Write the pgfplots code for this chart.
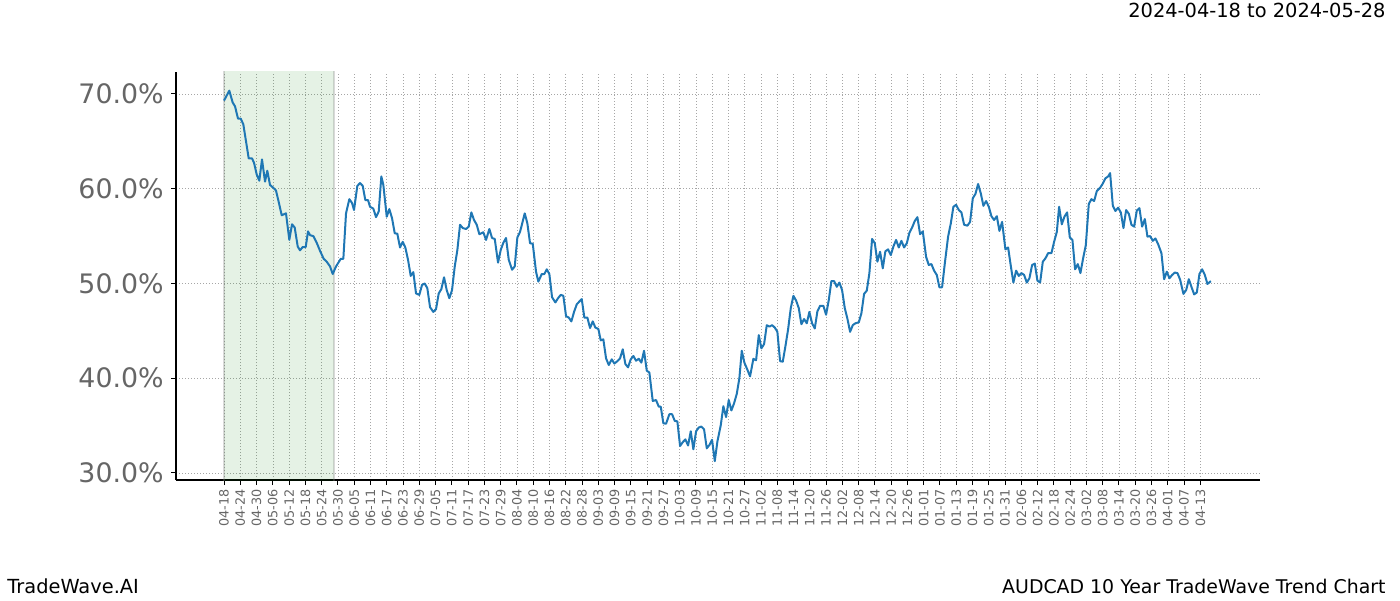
\documentclass[border=0pt]{standalone}
\usepackage{fontspec}
\setmainfont{DejaVu Sans}
\usepackage{pgfplots}
\usepackage{pgfplotstable}
\pgfplotsset{compat=1.18}
\definecolor{mplblue}{HTML}{1F77B4}
\definecolor{tickgray}{HTML}{666666}
\definecolor{bandgreen}{HTML}{008000}

\pgfplotstableread{
x y
0 69.3
1.95 70.35
3.2 69.1
4.06 68.7
5.16 67.4
6.16 67.4
7.12 66.8
9.11 63.2
10.33 63.2
11.06 62.75
12.06 61.5
13.02 60.85
14.01 63.1
15.12 60.75
15.97 61.9
16.96 60.4
18.18 60.1
19.18 59.8
20.17 58.6
21.28 57.2
22.86 57.4
24.08 54.6
25.08 56.25
26.07 55.9
27.18 53.9
28.03 53.5
29.02 53.85
30.13 53.85
30.98 55.5
31.71 55.1
32.93 55.0
34.18 54.3
35.40 53.45
36.77 52.6
37.87 52.3
39.09 51.8
40.09 51.0
41.30 51.8
43.04 52.6
44.0 52.6
44.99 57.4
46.21 58.9
47.20 58.5
47.94 57.75
49.16 60.3
50.15 60.6
51.15 60.3
52.11 58.8
53.10 58.8
53.84 58.1
55.06 57.9
56.05 57.0
57.05 57.6
58.01 61.3
58.75 60.4
60.0 57.05
60.96 57.85
61.95 56.9
62.95 55.3
63.91 55.25
64.90 53.8
65.90 54.4
66.86 53.8
67.85 52.5
68.85 50.8
69.81 51.2
70.80 48.95
72.02 48.8
73.02 49.85
74.01 50.0
74.97 49.5
75.97 47.5
77.18 47.0
78.18 47.3
79.17 48.95
80.13 49.4
81.13 50.65
82.12 49.3
83.08 48.45
84.08 49.3
85.08 51.8
86.03 53.5
87.03 56.2
88.03 55.85
89.24 55.75
90.24 56.0
91.20 57.5
92.19 56.7
93.19 56.2
94.15 55.2
95.62 55.4
96.62 54.6
97.84 55.75
98.83 54.8
99.83 54.7
101.04 52.2
102.04 53.55
103.0 54.3
103.99 54.8
104.99 52.5
106.21 51.45
107.20 51.8
108.16 54.85
109.16 55.45
110.89 57.4
111.85 56.35
112.84 54.25
113.84 54.2
115.05 51.25
115.90 50.2
117.16 51.0
118.12 51.0
119.0 51.5
119.96 51.0
120.96 48.55
122.18 48.0
123.17 48.45
124.17 48.8
125.12 48.7
126.12 46.55
127.12 46.4
128.08 46.0
129.07 47.0
130.07 47.8
131.03 48.1
131.91 48.35
132.87 46.4
133.98 46.4
134.97 45.3
135.97 46.0
136.92 45.35
138.03 45.2
138.91 44.0
139.87 44.1
140.87 42.1
141.87 41.4
142.97 42.0
143.93 41.55
145.04 41.8
146.03 42.1
147.03 43.05
147.99 41.5
148.98 41.15
149.98 42.0
150.94 42.35
151.93 41.85
152.93 42.05
153.89 41.65
154.88 42.9
155.88 40.8
156.84 40.6
158.09 37.6
159.31 37.7
160.30 37.0
161.04 37.0
162.0 35.25
163.0 35.2
164.21 36.2
165.21 36.2
166.20 35.5
167.16 35.45
168.16 32.85
169.15 33.25
170.11 33.55
171.11 32.9
172.10 34.4
173.06 32.5
174.06 34.4
175.05 34.8
176.01 34.9
177.01 34.6
178.01 32.6
178.96 32.95
179.96 33.5
180.96 31.25
181.91 33.3
183.17 35.05
184.13 37.05
185.12 35.9
186.12 37.7
187.08 36.6
188.07 37.35
189.07 38.35
190.03 40.0
190.91 42.9
191.87 41.65
192.98 40.9
193.97 40.2
195.19 42.05
196.19 41.9
197.18 44.55
198.14 43.15
199.14 43.6
200.13 45.6
201.09 45.45
202.09 45.6
203.08 45.35
204.04 44.9
205.04 41.8
206.03 41.75
206.99 43.35
207.99 45.15
208.98 47.4
209.94 48.7
210.94 48.2
211.93 47.4
212.89 45.7
213.89 46.25
214.88 45.8
215.84 47.0
216.84 45.8
217.83 45.25
218.79 47.05
219.79 47.65
221.0 47.65
222.0 46.7
222.99 48.25
223.95 50.25
224.95 50.25
225.94 49.65
226.90 50.1
227.90 49.3
228.89 47.4
229.85 46.3
230.85 44.9
231.84 45.6
232.80 45.8
234.06 45.9
235.02 46.85
236.01 48.9
237.01 49.25
237.97 51.1
238.96 54.7
239.96 54.25
240.92 52.3
241.91 53.35
242.91 51.6
243.86 53.4
244.86 53.6
245.86 53.0
246.82 53.9
247.81 54.6
248.81 53.8
249.77 54.5
250.76 53.8
251.76 54.25
252.72 55.35
253.71 55.9
254.71 56.6
255.67 57.0
256.66 55.2
257.66 55.5
258.88 52.8
259.87 51.95
260.83 52.05
261.83 51.35
262.82 50.9
263.78 49.6
264.78 49.6
265.77 52.1
266.99 54.95
267.99 56.35
268.94 58.1
269.94 58.3
270.94 57.75
271.90 57.5
272.89 56.2
274.11 56.1
275.10 56.5
276.10 59.0
277.06 59.45
278.05 60.5
279.05 59.5
280.01 58.2
281.0 58.7
282.0 58.1
282.96 57.1
283.95 56.7
284.95 57.1
285.91 55.55
286.90 56.5
288.12 53.6
289.12 53.8
290.11 51.85
291.07 50.1
292.07 51.35
293.06 50.8
294.02 51.1
295.02 50.9
296.01 50.1
296.97 50.55
297.97 51.95
298.96 52.1
299.92 50.3
300.92 50.1
301.91 52.3
302.87 52.65
303.87 53.2
305.09 53.2
306.08 54.4
307.08 55.45
307.92 58.1
308.92 56.25
309.88 57.05
310.87 57.5
311.87 54.85
312.83 54.6
313.82 51.5
314.82 52.05
315.78 51.1
316.77 52.65
317.77 54.05
318.87 58.4
319.83 58.9
320.83 58.7
321.82 59.75
323.04 60.1
324.04 60.55
325.0 61.1
325.99 61.3
326.73 61.65
327.73 58.2
328.69 57.65
329.68 58.0
330.68 57.5
331.64 55.85
332.63 57.75
333.63 57.35
334.59 56.2
335.58 56.0
336.58 57.7
337.54 57.95
338.53 56.0
339.53 56.8
340.49 54.95
341.48 55.0
342.48 54.5
343.44 54.75
344.43 54.15
345.65 53.2
346.64 50.45
347.64 51.25
348.60 50.55
349.59 50.9
350.59 51.15
351.55 51.1
352.54 50.4
353.76 48.9
354.76 49.3
355.75 50.45
356.71 49.65
357.71 48.85
358.70 49.05
359.66 51.0
360.66 51.5
361.65 50.9
362.61 49.95
363.87 50.25
}\trend

\begin{document}
\begin{tikzpicture}
\path[use as bounding box] (0pt,0pt) rectangle (700pt,300pt);
\begin{axis}[
  at={(88pt,60pt)}, anchor=south west,
  scale only axis, width=542pt, height=204pt,
  xmin=-17.7, xmax=382, ymin=29.26, ymax=72.32,
  axis x line*=bottom, axis y line*=left,
  axis line style={-, black, line width=0.6pt},
  tick align=outside, major tick length=2.5pt,
  tick style={black, line width=0.5pt},
  grid=major,
  major grid style={gray!70, line width=0.3pt, dash pattern=on 0.5pt off 1pt},
  xtick={0,6,...,360},
  xticklabels={04-18,04-24,04-30,05-06,05-12,05-18,05-24,05-30,06-05,06-11,06-17,06-23,06-29,07-05,07-11,07-17,07-23,07-29,08-04,08-10,08-16,08-22,08-28,09-03,09-09,09-15,09-21,09-27,10-03,10-09,10-15,10-21,10-27,11-02,11-08,11-14,11-20,11-26,12-02,12-08,12-14,12-20,12-26,01-01,01-07,01-13,01-19,01-25,01-31,02-06,02-12,02-18,02-24,03-02,03-08,03-14,03-20,03-26,04-01,04-07,04-13},
  xticklabel style={yshift=-2pt, rotate=90, anchor=east, inner sep=0pt,
    font=\fontsize{6.4}{7}\selectfont, text=tickgray},
  ytick={30,40,50,60,70},
  yticklabels={30.0\%,40.0\%,50.0\%,60.0\%,70.0\%},
  yticklabel style={xshift=-3.5pt, font=\fontsize{13.4}{15}\selectfont, text=tickgray, inner sep=0pt},
]
\addplot[draw=none, fill=bandgreen, fill opacity=0.1] coordinates {(0,20) (0,80) (40.5,80) (40.5,20)} -- cycle;
\addplot[gray, opacity=0.3, line width=1pt] coordinates {(0,20) (0,80)};
\addplot[gray, opacity=0.3, line width=1.2pt] coordinates {(40.5,20) (40.5,80)};
\addplot[mplblue, line width=1pt, line join=round] table[x=x, y=y] {\trend};
\end{axis}
\node[anchor=base east, inner sep=0pt, font=\fontsize{9.7}{11}\selectfont] at (693pt,291pt) {2024-04-18 to 2024-05-28};
\node[anchor=base west, inner sep=0pt, font=\fontsize{9.7}{11}\selectfont] at (3.5pt,3.5pt) {TradeWave.AI};
\node[anchor=base east, inner sep=0pt, font=\fontsize{9.45}{11}\selectfont] at (693pt,3.5pt) {AUDCAD 10 Year TradeWave Trend Chart};
\end{tikzpicture}
\end{document}
